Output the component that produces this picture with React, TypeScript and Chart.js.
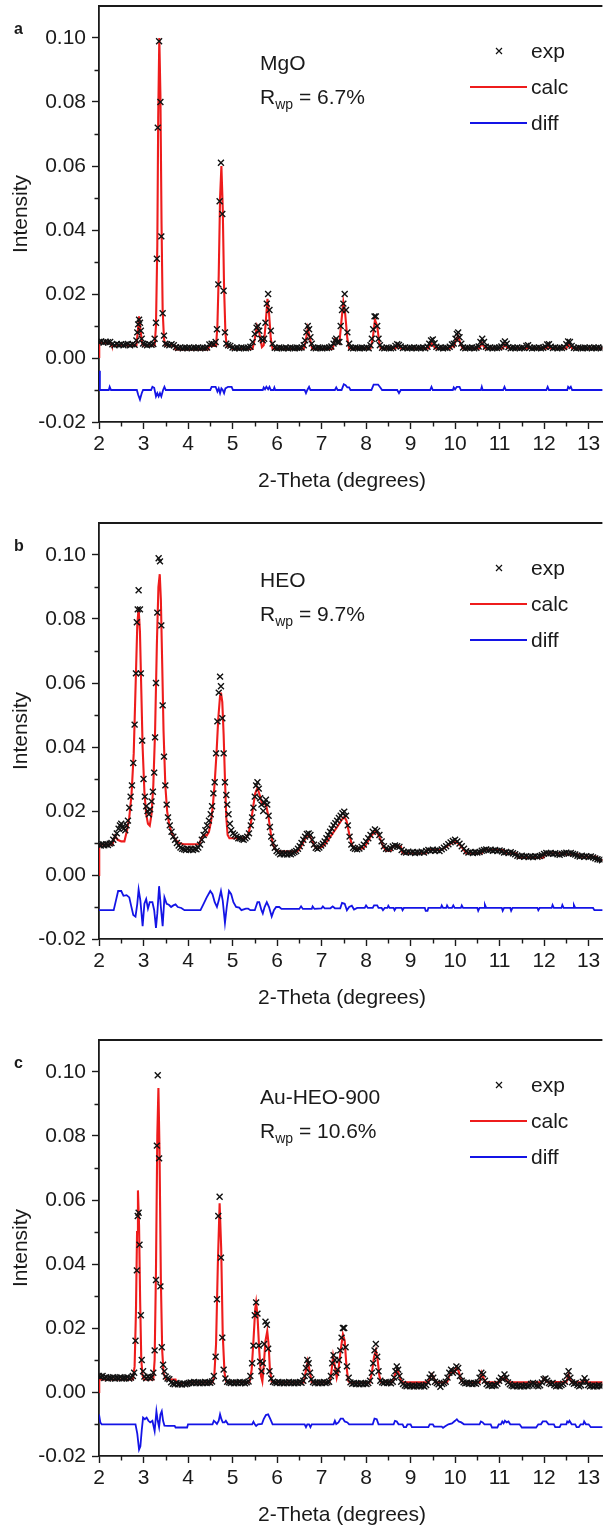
import React, { useEffect, useRef } from "react";
import { Chart, registerables } from "chart.js";

Chart.register(...registerables);

// ---------- tick / label data ----------
const X_TICKS = [2, 3, 4, 5, 6, 7, 8, 9, 10, 11, 12, 13];
const X_MINOR = [2.5, 3.5, 4.5, 5.5, 6.5, 7.5, 8.5, 9.5, 10.5, 11.5, 12.5];
const Y_TICKS = [-0.02, 0, 0.02, 0.04, 0.06, 0.08, 0.1];
const Y_MINOR = [-0.01, 0.01, 0.03, 0.05, 0.07, 0.09];
const X_MIN = 2;
const X_MAX = 13.31;
const Y_MIN = -0.02;
const Y_MAX = 0.11;

const PANEL_LETTERS = ["a", "b", "c"];
const SAMPLE_NAMES = ["MgO", "HEO", "Au-HEO-900"];
const RWP_VALUES = ["6.7%", "9.7%", "10.6%"];
const LEGEND_LABELS = ["exp", "calc", "diff"];
const X_TITLE = "2-Theta (degrees)";
const Y_TITLE = "Intensity";

// intensities below are in units of 1e-3
const Y_UNIT = 1e-3;

// ---------- panel a : MgO ----------
const EXP_A = [
  [2.0, 5.0], [2.05, 5.2], [2.1, 4.8], [2.15, 5.1], [2.2, 4.9], [2.25, 5.0],
  [2.3, 4.3], [2.35, 4.0], [2.4, 4.4], [2.45, 4.1], [2.5, 4.3], [2.55, 4.0], [2.6, 4.2], [2.65, 4.4], [2.7, 4.0], [2.75, 4.3], [2.8, 4.1],
  [2.84, 5.5], [2.86, 8], [2.88, 10.5], [2.9, 12], [2.92, 11], [2.94, 8.5], [2.96, 6], [2.99, 4.5],
  [3.03, 4.2], [3.08, 4.0], [3.13, 4.3], [3.18, 4.1], [3.22, 4.4],
  [3.25, 6], [3.28, 11], [3.3, 31], [3.32, 72], [3.35, 99], [3.38, 80], [3.4, 38], [3.43, 14], [3.46, 7], [3.49, 4.5],
  [3.53, 4.2], [3.58, 4.0], [3.63, 4.3], [3.68, 4.0], [3.73, 3.4], [3.78, 3.1], [3.83, 3.3], [3.88, 3.0], [3.93, 3.2], [3.98, 3.1],
  [4.03, 3.3], [4.08, 3.0], [4.13, 3.2], [4.18, 3.1], [4.23, 3.3], [4.28, 3.0], [4.33, 3.2], [4.38, 3.1], [4.43, 3.3], [4.48, 4.2],
  [4.53, 4.5], [4.58, 4.3], [4.62, 5], [4.65, 9], [4.68, 23], [4.71, 49], [4.74, 61], [4.77, 45], [4.8, 21], [4.83, 8], [4.86, 4.5],
  [4.9, 4.0], [4.95, 3.8], [5.0, 3.3], [5.05, 3.0], [5.1, 3.2], [5.15, 3.0], [5.2, 3.3], [5.25, 3.1], [5.3, 3.0], [5.35, 3.2], [5.4, 3.5],
  [5.45, 5], [5.5, 7.5], [5.54, 9.5], [5.57, 10], [5.6, 8.5], [5.64, 6], [5.68, 5.5], [5.71, 6], [5.74, 11], [5.77, 17], [5.8, 20],
  [5.83, 15], [5.86, 8.5], [5.9, 4.5], [5.95, 3.2], [6.0, 3.0], [6.05, 3.3], [6.1, 3.1], [6.15, 3.0], [6.2, 3.2], [6.25, 3.0],
  [6.3, 3.3], [6.35, 3.1], [6.4, 3.0], [6.45, 3.2], [6.5, 3.1], [6.55, 3.3], [6.6, 4], [6.63, 5.5], [6.66, 8], [6.69, 10], [6.72, 9],
  [6.75, 6.5], [6.78, 4.5], [6.82, 3.2], [6.87, 3.0], [6.92, 3.3], [6.97, 3.1], [7.02, 3.0], [7.07, 3.2], [7.12, 3.1], [7.17, 3.3],
  [7.22, 3.6], [7.27, 4.5], [7.3, 5.5], [7.33, 6], [7.36, 5], [7.4, 5], [7.43, 10], [7.46, 15], [7.49, 17], [7.52, 20], [7.55, 15],
  [7.58, 8], [7.62, 4.5], [7.66, 3.2], [7.71, 3.0], [7.76, 3.3], [7.81, 3.1], [7.86, 3.0], [7.91, 3.2], [7.96, 3.1], [8.01, 3.3],
  [8.06, 3.0], [8.1, 4], [8.13, 6], [8.16, 9], [8.19, 13], [8.22, 13], [8.25, 10], [8.28, 6], [8.31, 4], [8.36, 3.2], [8.41, 3.0],
  [8.46, 3.3], [8.51, 3.1], [8.56, 3.0], [8.61, 3.2], [8.66, 3.8], [8.7, 4.3], [8.74, 4.1], [8.78, 3.6], [8.83, 3.1], [8.88, 3.3],
  [8.93, 3.0], [8.98, 3.2], [9.03, 3.1], [9.08, 3.3], [9.13, 3.0], [9.18, 3.2], [9.23, 3.1], [9.28, 3.3], [9.33, 3.0], [9.38, 3.5],
  [9.42, 4.5], [9.46, 5.5], [9.5, 5.8], [9.54, 4.6], [9.58, 3.5], [9.63, 3.1], [9.68, 3.3], [9.73, 3.0], [9.78, 3.2], [9.83, 3.1],
  [9.88, 3.5], [9.93, 4.2], [9.97, 4.5], [10.01, 6], [10.04, 7.5], [10.07, 8], [10.1, 6.5], [10.14, 4.5], [10.18, 3.3], [10.23, 3.0],
  [10.28, 3.2], [10.33, 3.1], [10.38, 3.3], [10.43, 3.0], [10.48, 3.2], [10.53, 3.6], [10.57, 5], [10.61, 6], [10.65, 5], [10.69, 3.5],
  [10.74, 3.1], [10.79, 3.3], [10.84, 3.0], [10.89, 3.2], [10.94, 3.1], [10.99, 3.3], [11.04, 3.6], [11.08, 4.6], [11.12, 5.2],
  [11.16, 4.5], [11.2, 3.4], [11.25, 3.0], [11.3, 3.2], [11.35, 3.1], [11.4, 3.3], [11.45, 3.0], [11.5, 3.2], [11.55, 3.1], [11.6, 3.8],
  [11.64, 4.0], [11.68, 3.3], [11.73, 3.0], [11.78, 3.2], [11.83, 3.1], [11.88, 3.3], [11.93, 3.0], [11.98, 3.2], [12.03, 3.5],
  [12.07, 4.2], [12.11, 4.3], [12.15, 3.5], [12.2, 3.1], [12.25, 3.3], [12.3, 3.0], [12.35, 3.2], [12.4, 3.1], [12.45, 3.4],
  [12.5, 4.3], [12.54, 5.2], [12.58, 5], [12.62, 3.8], [12.67, 3.2], [12.72, 3.0], [12.77, 3.3], [12.82, 3.1], [12.87, 3.0],
  [12.92, 3.2], [12.97, 3.1], [13.02, 3.3], [13.07, 3.0], [13.12, 3.2], [13.17, 3.1], [13.22, 3.3], [13.27, 3.0], [13.32, 3.2],
];
const CALC_A = [
  [2.0, 0.3], [2.005, 4.7], [2.27, 4.7], [2.29, 3.9], [2.84, 3.9], [2.87, 8], [2.9, 13], [2.93, 9], [2.97, 4.5], [3.0, 3.9],
  [3.25, 3.9], [3.28, 10], [3.31, 35], [3.33, 75], [3.355, 100], [3.38, 82], [3.405, 42], [3.43, 15], [3.46, 6], [3.49, 3.9],
  [3.7, 3.9], [3.72, 2.7], [4.45, 2.7], [4.48, 3.8], [4.63, 3.8], [4.66, 10], [4.69, 26], [4.72, 50], [4.75, 60], [4.78, 47],
  [4.81, 22], [4.84, 8], [4.87, 3.6], [4.98, 3.5], [5.0, 2.8], [5.45, 2.8], [5.5, 6], [5.55, 10], [5.6, 8], [5.66, 3.4],
  [5.7, 4], [5.74, 10], [5.785, 18.5], [5.82, 14], [5.86, 6], [5.9, 2.8], [6.6, 2.8], [6.64, 5], [6.69, 9.3], [6.74, 6],
  [6.79, 2.8], [7.25, 2.8], [7.3, 5.8], [7.35, 5], [7.4, 4.5], [7.45, 12], [7.49, 17.5], [7.53, 14], [7.58, 6], [7.62, 3],
  [8.1, 3], [8.15, 6], [8.2, 12], [8.25, 10], [8.3, 4.5], [8.33, 3], [8.66, 3], [8.7, 3.8], [8.75, 3.5], [8.78, 3], [9.4, 3],
  [9.47, 4.6], [9.53, 3.5], [9.57, 3], [9.9, 3], [9.93, 4], [9.97, 3.5], [10.03, 6], [10.07, 6.8], [10.12, 4.5], [10.17, 3],
  [10.55, 3], [10.6, 4.8], [10.65, 3.5], [10.68, 3], [11.07, 3], [11.12, 4.3], [11.17, 3.2], [11.6, 3], [11.65, 3.3], [11.7, 3],
  [12.05, 3], [12.1, 3.8], [12.15, 3], [12.5, 3], [12.55, 4.5], [12.6, 3.6], [12.63, 3], [13.35, 3],
];
const DIFF_A = [
  [2.0, -4], [2.02, -10], [2.22, -10], [2.24, -9], [2.27, -10], [2.85, -10], [2.88, -11.5], [2.92, -13], [2.96, -11], [2.99, -10],
  [3.17, -10], [3.2, -9], [3.24, -9.3], [3.28, -12], [3.31, -11], [3.34, -12], [3.37, -11], [3.4, -12], [3.44, -10], [3.47, -9],
  [3.5, -10], [4.5, -10], [4.53, -9], [4.62, -9], [4.66, -10.5], [4.69, -9.5], [4.72, -11], [4.75, -9.5], [4.78, -10], [4.81, -11],
  [4.84, -9.5], [4.9, -9], [4.98, -9], [5.01, -10], [5.68, -10], [5.7, -9.2], [5.73, -9.8], [5.76, -9], [5.8, -9.8], [5.83, -9],
  [5.86, -10], [5.92, -10], [5.94, -9.2], [5.96, -10], [6.62, -10], [6.65, -11], [6.68, -10], [6.72, -9], [6.75, -10], [7.3, -10],
  [7.33, -9.2], [7.36, -10], [7.45, -10], [7.5, -8.2], [7.54, -8.5], [7.58, -9.2], [7.62, -9.2], [7.65, -10], [8.12, -10],
  [8.17, -8.3], [8.27, -8.3], [8.32, -9.2], [8.36, -10], [8.7, -10], [8.74, -11], [8.78, -10], [9.44, -10], [9.47, -9], [9.5, -10],
  [9.95, -10], [9.97, -9.2], [10.0, -9.8], [10.04, -9], [10.1, -9], [10.13, -10], [10.58, -10], [10.6, -9], [10.62, -10],
  [11.08, -10], [11.11, -9], [11.14, -10], [12.05, -10], [12.08, -9], [12.11, -10], [12.52, -10], [12.54, -9], [12.57, -9.5],
  [12.6, -9], [12.63, -10], [13.35, -10],
];

// ---------- panel b : HEO ----------
const EXP_B = [
  [2.0, 9.5], [2.04, 9.2], [2.08, 9.6], [2.12, 9.3], [2.16, 9.6], [2.2, 9.4], [2.24, 9.8], [2.28, 10.0], [2.32, 11], [2.36, 12],
  [2.4, 13], [2.44, 14.5], [2.47, 15.5], [2.5, 16], [2.53, 15], [2.56, 14.5], [2.59, 14], [2.62, 15.5], [2.65, 17], [2.68, 21],
  [2.71, 24.5], [2.74, 28], [2.77, 35], [2.8, 47], [2.83, 63], [2.85, 79], [2.87, 83], [2.89, 89], [2.92, 83], [2.94, 63],
  [2.97, 42], [3.0, 30], [3.03, 24.5], [3.06, 21.5], [3.09, 20], [3.12, 19], [3.15, 20.5], [3.18, 23], [3.21, 26], [3.24, 32],
  [3.26, 43], [3.28, 60], [3.31, 82], [3.34, 99], [3.37, 98], [3.4, 78], [3.43, 53], [3.46, 37], [3.49, 28], [3.52, 22],
  [3.55, 18], [3.59, 15.5], [3.63, 13.5], [3.67, 12], [3.71, 11], [3.75, 10], [3.79, 9.2], [3.83, 8.6], [3.87, 8.2], [3.91, 8.0],
  [3.95, 7.8], [3.99, 8.2], [4.03, 7.9], [4.07, 8.1], [4.11, 7.8], [4.15, 8.2], [4.19, 8.0], [4.23, 8.6], [4.27, 9.5], [4.31, 11],
  [4.35, 12.5], [4.39, 14], [4.43, 15.5], [4.47, 17], [4.51, 19], [4.54, 21.5], [4.57, 25.5], [4.6, 29], [4.63, 38], [4.66, 48],
  [4.69, 57], [4.72, 62], [4.74, 59], [4.77, 49], [4.8, 38], [4.83, 29], [4.86, 25], [4.88, 22], [4.91, 19], [4.94, 16],
  [4.97, 14], [5.01, 13], [5.05, 12.5], [5.09, 12], [5.13, 11.5], [5.17, 11.5], [5.21, 11.2], [5.25, 11], [5.29, 11.5], [5.33, 12],
  [5.37, 13], [5.41, 15.5], [5.44, 18], [5.47, 21], [5.5, 24.5], [5.53, 28], [5.56, 29], [5.59, 27], [5.62, 24], [5.65, 22],
  [5.69, 20], [5.72, 22.5], [5.75, 23.5], [5.78, 22], [5.81, 18.5], [5.84, 15], [5.87, 12], [5.91, 10], [5.95, 8.5], [5.99, 7.5],
  [6.03, 7.0], [6.07, 6.5], [6.11, 6.8], [6.15, 6.5], [6.19, 6.8], [6.23, 6.4], [6.27, 6.7], [6.31, 6.5], [6.35, 6.9], [6.39, 7.2],
  [6.43, 7.5], [6.47, 8.2], [6.51, 9], [6.55, 10], [6.59, 11], [6.63, 12], [6.67, 12.8], [6.71, 13], [6.75, 12.5], [6.79, 11],
  [6.83, 9.5], [6.87, 8.5], [6.91, 8.2], [6.95, 8.6], [6.99, 9.2], [7.03, 9.8], [7.07, 10.5], [7.11, 11.5], [7.15, 12.5],
  [7.19, 13.5], [7.23, 14.5], [7.27, 15.5], [7.31, 16.2], [7.35, 17], [7.39, 17.8], [7.43, 18.5], [7.47, 19.3], [7.51, 19.8],
  [7.55, 18.5], [7.59, 15.5], [7.63, 12], [7.67, 9.5], [7.71, 8.5], [7.75, 8.2], [7.8, 8.0], [7.85, 8.3], [7.9, 8.8], [7.95, 9.5],
  [8.0, 10.5], [8.05, 11.5], [8.1, 12.5], [8.15, 13.5], [8.2, 14.2], [8.25, 13.8], [8.3, 12.5], [8.35, 10.5], [8.4, 9], [8.45, 8.2],
  [8.5, 8.0], [8.55, 8.4], [8.6, 8.9], [8.65, 9.2], [8.7, 9.0], [8.75, 8.8], [8.8, 7.8], [8.85, 7.2], [8.9, 7.0], [8.95, 7.3],
  [9.0, 7.0], [9.05, 7.2], [9.1, 6.9], [9.15, 7.1], [9.2, 7.0], [9.25, 7.3], [9.3, 7.0], [9.35, 7.5], [9.4, 7.8], [9.45, 7.6],
  [9.5, 7.9], [9.55, 7.6], [9.6, 7.8], [9.65, 7.5], [9.7, 8.0], [9.75, 8.5], [9.8, 9.0], [9.85, 9.6], [9.9, 10.2], [9.95, 10.6],
  [10.0, 11.0], [10.05, 10.5], [10.1, 9.8], [10.15, 9.0], [10.2, 8.2], [10.25, 7.4], [10.3, 7.0], [10.35, 7.2], [10.4, 6.9],
  [10.45, 7.1], [10.5, 7.0], [10.55, 7.2], [10.6, 7.6], [10.65, 7.8], [10.7, 8.0], [10.75, 7.7], [10.8, 7.9], [10.85, 7.6],
  [10.9, 7.8], [10.95, 7.5], [11.0, 7.7], [11.05, 7.4], [11.1, 7.0], [11.15, 7.2], [11.2, 6.9], [11.25, 7.1], [11.3, 6.8],
  [11.35, 6.5], [11.4, 6.0], [11.45, 5.8], [11.5, 6.0], [11.55, 5.7], [11.6, 5.9], [11.65, 5.6], [11.7, 5.8], [11.75, 5.6],
  [11.8, 5.9], [11.85, 5.7], [11.9, 5.9], [11.95, 6.2], [12.0, 6.6], [12.05, 6.9], [12.1, 6.7], [12.15, 6.9], [12.2, 6.6],
  [12.25, 6.8], [12.3, 6.5], [12.35, 6.3], [12.4, 6.6], [12.45, 6.8], [12.5, 7.0], [12.55, 6.7], [12.6, 6.9], [12.65, 6.6],
  [12.7, 6.4], [12.75, 6.0], [12.8, 5.8], [12.85, 6.0], [12.9, 5.7], [12.95, 5.9], [13.0, 5.6], [13.05, 5.8], [13.1, 5.5],
  [13.15, 5.2], [13.2, 4.9], [13.25, 4.8], [13.3, 4.6],
];
const CALC_B = [
  [2.0, 0], [2.005, 9.5], [2.3, 9.5], [2.36, 12.2], [2.42, 11], [2.5, 10.5], [2.57, 10.5], [2.63, 14], [2.68, 18], [2.73, 25],
  [2.78, 38], [2.82, 58], [2.86, 78], [2.89, 83.5], [2.92, 76], [2.95, 58], [2.98, 40], [3.02, 26], [3.06, 19], [3.1, 16],
  [3.14, 15.4], [3.18, 19], [3.22, 28], [3.26, 45], [3.3, 72], [3.335, 90], [3.365, 94], [3.39, 86], [3.42, 66], [3.45, 45],
  [3.49, 28], [3.53, 20], [3.58, 15.5], [3.65, 12.5], [3.72, 11], [3.8, 10], [3.9, 9.6], [4.25, 9.6], [4.3, 11.5], [4.36, 12.5],
  [4.42, 12.3], [4.47, 13.5], [4.52, 17], [4.56, 22], [4.6, 29], [4.64, 38], [4.68, 49], [4.72, 56], [4.74, 57], [4.77, 54],
  [4.8, 44], [4.83, 30], [4.86, 18], [4.89, 12.5], [4.93, 11.5], [5.3, 11.5], [5.36, 13], [5.41, 16], [5.46, 21], [5.51, 25.5],
  [5.56, 27.2], [5.61, 25], [5.66, 22.5], [5.72, 22.3], [5.76, 21.5], [5.81, 18], [5.86, 13], [5.91, 9.5], [5.96, 8], [6.03, 7.3],
  [6.45, 7.3], [6.52, 8.5], [6.6, 10.5], [6.67, 12.2], [6.72, 12.5], [6.78, 11], [6.84, 9], [6.9, 8.3], [6.97, 8.5], [7.05, 9.2],
  [7.15, 11], [7.25, 13], [7.35, 15], [7.44, 17], [7.51, 18.2], [7.56, 17], [7.62, 13], [7.68, 9.5], [7.73, 8.3], [7.94, 8.3],
  [8.0, 9.5], [8.1, 12], [8.22, 13.8], [8.3, 12], [8.38, 9], [8.45, 7.6], [8.56, 7.6], [8.6, 9], [8.78, 9], [8.82, 6.8],
  [9.34, 6.8], [9.38, 7.8], [9.68, 7.8], [9.8, 8.8], [9.92, 10], [10.0, 10.4], [10.08, 9.8], [10.18, 8.2], [10.25, 6.8],
  [10.6, 6.8], [10.64, 7.8], [10.7, 8.0], [10.76, 7.8], [11.1, 7.8], [11.14, 6.8], [11.38, 6.8], [11.42, 5.4], [11.98, 5.4],
  [12.02, 6.8], [12.42, 6.8], [12.46, 6.5], [12.76, 6.5], [12.8, 5.7], [13.18, 5.7], [13.22, 4.7], [13.35, 4.7],
];
const DIFF_B = [
  [2.0, -11], [2.33, -11], [2.38, -8], [2.43, -5], [2.5, -5], [2.55, -6.5], [2.62, -6.3], [2.68, -7], [2.72, -9.5], [2.77, -12.5],
  [2.82, -13], [2.86, -9], [2.89, -4.5], [2.93, -8], [2.98, -16], [3.02, -9], [3.06, -7.5], [3.1, -10.5], [3.14, -8.5], [3.2, -8.5],
  [3.24, -11], [3.28, -16.5], [3.31, -12], [3.35, -3.5], [3.39, -10], [3.43, -16], [3.47, -7], [3.52, -9], [3.57, -9.3], [3.62, -10],
  [3.67, -9.5], [3.72, -9.2], [3.77, -10], [3.85, -10.3], [3.92, -11], [4.28, -11], [4.35, -9], [4.42, -7], [4.5, -5], [4.55, -6],
  [4.6, -8.5], [4.65, -10], [4.69, -8], [4.74, -5], [4.78, -8], [4.83, -15], [4.87, -10], [4.92, -5], [4.97, -6], [5.02, -8.5],
  [5.08, -10], [5.15, -10.2], [5.2, -11], [5.3, -10.5], [5.35, -10.5], [5.4, -11], [5.5, -11], [5.56, -8.5], [5.6, -8.5],
  [5.65, -11], [5.68, -12], [5.72, -10], [5.77, -8.5], [5.82, -10], [5.88, -13], [5.93, -11], [5.98, -10], [6.05, -10],
  [6.1, -10.6], [6.5, -10.6], [6.54, -9.8], [6.58, -10.6], [6.78, -10.6], [6.8, -9.8], [6.84, -10.6], [7.0, -10.4], [7.03, -9.8],
  [7.07, -10.4], [7.2, -10.4], [7.25, -9.8], [7.3, -10.4], [7.42, -10.4], [7.46, -8.7], [7.52, -9], [7.57, -11], [7.62, -10],
  [7.68, -9.6], [7.73, -10.8], [7.8, -10.3], [7.97, -10.3], [8.0, -9.5], [8.04, -10.3], [8.15, -10.3], [8.18, -9.5], [8.25, -9.5],
  [8.28, -10.3], [8.35, -10.3], [8.38, -11], [8.42, -10.3], [8.48, -10.3], [8.5, -9.6], [8.53, -10.3], [8.62, -10.3], [8.64, -11],
  [8.67, -10.3], [8.8, -10.3], [8.82, -11], [8.85, -10.3], [9.32, -10.3], [9.34, -11.2], [9.38, -11.2], [9.4, -10.3], [9.68, -10.3],
  [9.7, -9.5], [9.73, -10.3], [9.8, -10.3], [9.82, -9.5], [9.85, -10.3], [9.93, -10.3], [9.96, -9.5], [9.99, -10.3], [10.13, -10.3],
  [10.15, -9.5], [10.18, -10.3], [10.5, -10.3], [10.52, -11.2], [10.55, -10.3], [10.65, -10.3], [10.67, -9.3], [10.7, -10.3],
  [11.05, -10.3], [11.07, -11.2], [11.1, -10.3], [11.24, -10.3], [11.26, -11.2], [11.29, -10.3], [11.85, -10.3], [11.87, -11],
  [11.9, -10.3], [12.17, -10.3], [12.19, -9.4], [12.22, -10.3], [12.39, -10.3], [12.41, -9.4], [12.44, -10.3], [12.65, -10.3],
  [12.67, -9.4], [12.7, -10.3], [13.1, -10.3], [13.13, -11], [13.35, -11],
];

// ---------- panel c : Au-HEO-900 ----------
const EXP_C = [
  [2.0, 5.0], [2.04, 4.8], [2.08, 5.0], [2.12, 4.4], [2.16, 4.6], [2.2, 4.2], [2.24, 4.5], [2.28, 4.3], [2.32, 4.6], [2.36, 4.2],
  [2.4, 4.5], [2.44, 4.3], [2.48, 4.6], [2.52, 4.2], [2.56, 4.4], [2.6, 4.3], [2.64, 4.6], [2.68, 4.2], [2.72, 4.5], [2.76, 5.0],
  [2.79, 6], [2.82, 16], [2.85, 38], [2.87, 55], [2.89, 56], [2.91, 46], [2.94, 24], [2.96, 10], [2.99, 6.5], [3.02, 4.8],
  [3.06, 4.3], [3.1, 4.8], [3.14, 4.4], [3.18, 4.6], [3.22, 6], [3.25, 13], [3.28, 35], [3.3, 77], [3.32, 99], [3.35, 73],
  [3.38, 33], [3.41, 14], [3.44, 8.5], [3.47, 6.5], [3.5, 4.8], [3.54, 4.2], [3.58, 4.0], [3.62, 3.0], [3.66, 2.6], [3.7, 2.4],
  [3.74, 2.8], [3.78, 2.4], [3.82, 2.6], [3.86, 2.3], [3.9, 2.7], [3.94, 2.4], [3.98, 2.6], [4.02, 2.8], [4.06, 3.0], [4.1, 2.8],
  [4.14, 3.1], [4.18, 2.8], [4.22, 3.0], [4.26, 2.7], [4.3, 3.0], [4.34, 2.8], [4.38, 3.1], [4.42, 2.8], [4.46, 3.0], [4.5, 2.9],
  [4.54, 3.3], [4.58, 5], [4.62, 11], [4.65, 29], [4.68, 55], [4.71, 61], [4.74, 42], [4.77, 17], [4.8, 7], [4.84, 4.2],
  [4.88, 3.2], [4.92, 3.0], [4.96, 2.8], [5.0, 3.0], [5.04, 2.7], [5.08, 3.0], [5.12, 2.8], [5.16, 3.1], [5.2, 2.8], [5.24, 3.0],
  [5.28, 2.7], [5.32, 3.0], [5.36, 3.3], [5.4, 5], [5.44, 9], [5.47, 14.5], [5.5, 24], [5.53, 28], [5.56, 24.5], [5.59, 14.5],
  [5.62, 9.5], [5.65, 6.5], [5.68, 9], [5.71, 15], [5.74, 22], [5.77, 21], [5.8, 13.5], [5.83, 6.5], [5.87, 4.2], [5.91, 3.2],
  [5.95, 3.0], [5.99, 2.8], [6.03, 3.1], [6.07, 2.8], [6.11, 3.0], [6.15, 2.7], [6.19, 3.0], [6.23, 2.8], [6.27, 3.1], [6.31, 2.8],
  [6.35, 3.0], [6.39, 2.7], [6.43, 3.0], [6.47, 2.8], [6.51, 3.1], [6.55, 2.9], [6.59, 3.5], [6.62, 5], [6.65, 7.5], [6.68, 10],
  [6.71, 9], [6.74, 6], [6.77, 4], [6.81, 3.1], [6.85, 2.8], [6.89, 3.0], [6.93, 2.7], [6.97, 3.0], [7.01, 2.8], [7.05, 3.1],
  [7.09, 2.8], [7.13, 3.0], [7.17, 3.2], [7.21, 5], [7.24, 9], [7.27, 11.5], [7.3, 10], [7.33, 6], [7.36, 7], [7.39, 10],
  [7.42, 13], [7.45, 17], [7.48, 20], [7.51, 20], [7.54, 14], [7.57, 8], [7.61, 4.5], [7.65, 3.0], [7.69, 2.6], [7.73, 2.8],
  [7.77, 2.5], [7.81, 2.7], [7.85, 2.4], [7.89, 2.8], [7.93, 2.5], [7.97, 2.7], [8.01, 2.5], [8.05, 2.8], [8.09, 3.5], [8.13, 6],
  [8.16, 9], [8.19, 13], [8.22, 15], [8.25, 11], [8.28, 6.5], [8.32, 3.5], [8.36, 3.0], [8.4, 2.8], [8.44, 3.1], [8.48, 2.8],
  [8.52, 3.0], [8.56, 2.7], [8.6, 3.2], [8.63, 4.5], [8.66, 6.5], [8.69, 8], [8.72, 7], [8.75, 5], [8.79, 3.2], [8.83, 2.5],
  [8.87, 2.0], [8.91, 1.8], [8.95, 2.1], [8.99, 1.8], [9.03, 2.0], [9.07, 1.7], [9.11, 2.0], [9.15, 1.8], [9.19, 2.1], [9.23, 1.8],
  [9.27, 2.0], [9.31, 1.7], [9.35, 2.2], [9.39, 3.0], [9.43, 4.5], [9.47, 5.5], [9.51, 4.5], [9.55, 3.2], [9.59, 2.8], [9.63, 2.4],
  [9.67, 1.6], [9.71, 2.5], [9.75, 2.8], [9.79, 3.2], [9.83, 4.5], [9.87, 6], [9.91, 7], [9.95, 6], [9.99, 6.5], [10.03, 8],
  [10.07, 7.5], [10.11, 5], [10.15, 3.5], [10.19, 3.0], [10.23, 2.7], [10.27, 2.9], [10.31, 2.6], [10.35, 2.8], [10.39, 2.5],
  [10.43, 2.8], [10.47, 2.6], [10.51, 3.0], [10.55, 4.5], [10.59, 6], [10.63, 5.5], [10.67, 3.5], [10.71, 2.5], [10.75, 2.0],
  [10.79, 2.2], [10.83, 1.9], [10.87, 2.1], [10.91, 2.0], [10.95, 2.6], [10.99, 3.5], [11.03, 4.5], [11.07, 4.0], [11.11, 5.5],
  [11.15, 4.5], [11.19, 3.0], [11.23, 2.4], [11.27, 2.0], [11.31, 1.8], [11.35, 2.1], [11.39, 1.8], [11.43, 2.0], [11.47, 1.7],
  [11.51, 2.0], [11.55, 1.8], [11.59, 2.1], [11.63, 1.8], [11.67, 2.0], [11.71, 2.5], [11.75, 2.8], [11.79, 2.6], [11.83, 2.0],
  [11.87, 1.8], [11.91, 2.1], [11.95, 3.0], [11.99, 4.0], [12.03, 4.2], [12.07, 3.5], [12.11, 2.8], [12.15, 2.5], [12.19, 2.8],
  [12.23, 2.2], [12.27, 1.8], [12.31, 2.0], [12.35, 1.8], [12.39, 2.2], [12.43, 2.6], [12.47, 3.2], [12.51, 5], [12.55, 6.5],
  [12.59, 4.5], [12.63, 3.0], [12.67, 2.6], [12.71, 2.8], [12.75, 2.2], [12.79, 1.8], [12.83, 2.1], [12.87, 3.2], [12.91, 4.3],
  [12.95, 3.2], [12.99, 2.2], [13.03, 1.8], [13.07, 2.0], [13.11, 1.7], [13.15, 2.0], [13.19, 1.8], [13.23, 2.1], [13.27, 1.8],
  [13.31, 2.0],
];
const CALC_C = [
  [2.0, 0], [2.005, 3.9], [2.76, 3.9], [2.8, 8], [2.83, 25], [2.855, 50], [2.875, 63], [2.9, 52], [2.925, 28], [2.95, 10],
  [2.98, 5], [3.01, 3.9], [3.22, 3.9], [3.25, 10], [3.28, 38], [3.31, 80], [3.335, 95], [3.36, 75], [3.39, 35], [3.42, 13],
  [3.45, 6], [3.5, 3.9], [3.72, 3.9], [3.74, 2.8], [4.0, 2.8], [4.02, 3.0], [4.55, 3.0], [4.59, 5], [4.63, 15], [4.67, 40],
  [4.71, 59], [4.745, 45], [4.78, 18], [4.82, 6], [4.86, 3.2], [5.38, 3.0], [5.43, 7], [5.47, 16], [5.51, 26], [5.53, 28],
  [5.56, 24], [5.6, 13], [5.64, 5], [5.67, 3.3], [5.7, 8], [5.74, 16], [5.78, 19], [5.81, 15], [5.84, 7], [5.88, 3.2], [5.92, 3.0],
  [6.6, 3.0], [6.64, 6], [6.69, 9.6], [6.74, 6], [6.78, 3.0], [7.18, 3.0], [7.22, 6], [7.26, 11.2], [7.3, 8], [7.34, 4.5],
  [7.38, 7], [7.43, 13], [7.48, 18], [7.52, 16], [7.56, 8], [7.6, 3.5], [7.64, 2.9], [8.08, 2.9], [8.13, 6], [8.18, 11],
  [8.22, 13], [8.26, 10], [8.3, 5], [8.34, 3.1], [8.6, 3.1], [8.65, 5.5], [8.7, 7.1], [8.75, 5], [8.8, 3.0], [9.4, 3.0],
  [9.44, 4.5], [9.48, 5.5], [9.52, 4.5], [9.56, 3.0], [9.82, 3.0], [9.87, 5], [9.93, 6.6], [9.98, 6], [10.03, 7.6], [10.08, 6.5],
  [10.13, 4], [10.18, 3.0], [10.55, 3.0], [10.6, 6], [10.65, 4], [10.68, 3.0], [11.0, 3.0], [11.05, 4.5], [11.08, 4], [11.12, 4.6],
  [11.16, 3.5], [11.2, 3.0], [11.95, 3.0], [12.0, 4.2], [12.05, 3.2], [12.5, 3.0], [12.55, 5.5], [12.6, 3.5], [12.63, 3.0],
  [12.87, 3.0], [12.9, 4], [12.94, 3.0], [13.35, 3.0],
];
const DIFF_C = [
  [2.0, -7], [2.03, -9.5], [2.06, -10.1], [2.82, -10.1], [2.86, -13], [2.9, -18], [2.93, -17], [2.96, -12], [2.99, -8], [3.03, -8.5],
  [3.07, -8], [3.11, -9], [3.15, -9.5], [3.2, -9], [3.25, -12.2], [3.29, -6], [3.32, -9], [3.35, -11], [3.38, -7], [3.41, -6],
  [3.44, -9], [3.47, -10.5], [3.55, -10.6], [3.7, -10.6], [3.72, -11.1], [3.98, -11.1], [4.0, -10.1], [4.55, -10.1], [4.58, -9],
  [4.62, -9.5], [4.65, -10], [4.69, -9], [4.72, -7], [4.75, -8.5], [4.78, -9.5], [4.82, -9.5], [4.85, -9], [4.9, -10.1],
  [5.44, -10.1], [5.47, -9.3], [5.5, -10.1], [5.53, -10.6], [5.57, -10.1], [5.66, -10], [5.7, -8.5], [5.75, -7.2], [5.8, -7],
  [5.85, -8.5], [5.9, -10.1], [6.62, -10.1], [6.65, -11], [6.68, -10.1], [6.72, -10.1], [6.75, -11], [6.78, -10.1], [7.27, -10.1],
  [7.3, -9], [7.33, -10], [7.38, -9.5], [7.43, -8.3], [7.48, -8.3], [7.52, -9.2], [7.58, -9.5], [7.62, -10.1], [8.15, -10.1],
  [8.19, -8.3], [8.24, -8.5], [8.28, -10.1], [8.62, -10.1], [8.65, -9], [8.69, -9.2], [8.73, -10.1], [8.82, -10.1], [8.85, -11],
  [8.9, -11], [8.93, -10.1], [9.0, -10.1], [9.03, -11], [9.4, -11], [9.43, -10.1], [9.5, -10.1], [9.53, -10.8], [9.7, -10.8],
  [9.73, -11.2], [9.77, -10.8], [9.85, -10.1], [9.93, -9.8], [10.0, -9], [10.04, -8.5], [10.08, -9.2], [10.14, -9.5], [10.2, -10.1],
  [10.55, -10.1], [10.58, -9.2], [10.62, -9.5], [10.66, -10.1], [10.8, -10.1], [10.83, -11.1], [10.95, -11.1], [10.98, -10.1],
  [11.03, -10.1], [11.06, -9.2], [11.09, -9.8], [11.12, -9], [11.16, -9.5], [11.2, -9.2], [11.24, -10.1], [11.45, -10.1],
  [11.5, -11.1], [11.82, -11.1], [11.87, -10.1], [11.93, -10.1], [11.97, -9.2], [12.05, -9.2], [12.1, -10.1], [12.22, -10.1],
  [12.25, -11], [12.35, -11], [12.38, -10.1], [12.5, -10.1], [12.52, -9.2], [12.55, -9.5], [12.57, -9], [12.62, -10.1],
  [12.7, -10.1], [12.73, -11], [12.78, -11], [12.82, -10.1], [12.88, -10.1], [12.9, -9.2], [12.94, -10.1], [13.0, -10.1],
  [13.05, -11], [13.35, -11],
];

const PANEL_DATA = [
  { exp: EXP_A, calc: CALC_A, diff: DIFF_A },
  { exp: EXP_B, calc: CALC_B, diff: DIFF_B },
  { exp: EXP_C, calc: CALC_C, diff: DIFF_C },
];

// ---------- style ----------
const FONT = "'Liberation Sans', Arial, Helvetica, sans-serif";
const INK = "#1a1a1a";
const MARK = "#111111";
const RED = "#ee1c1c";
const BLUE = "#1414e6";
const W = 608;
const PANEL_H = 517;
const PAGE_H = 1531;
const PLOT_TOP = 6;
const PLOT_BOTTOM = 422;

const toPts = (arr: number[][]) => arr.map(([x, y]) => ({ x, y: y * Y_UNIT }));

function drawRwp(ctx: CanvasRenderingContext2D, x: number, y: number, value: string) {
  ctx.font = `21px ${FONT}`;
  ctx.textBaseline = "alphabetic";
  ctx.textAlign = "left";
  ctx.fillText("R", x, y);
  let cx = x + ctx.measureText("R").width;
  ctx.font = `14px ${FONT}`;
  ctx.fillText("wp", cx, y + 5);
  cx += ctx.measureText("wp").width;
  ctx.font = `21px ${FONT}`;
  ctx.fillText(" = " + value, cx, y);
}

function makeDecor(idx: number) {
  return {
    id: "decor" + idx,
    afterDraw(chart: any) {
      const { ctx, chartArea: a, scales } = chart;
      const xs = scales.x;
      const ys = scales.y;
      ctx.save();
      ctx.strokeStyle = INK;
      // top frame line
      ctx.lineWidth = 1.8;
      ctx.beginPath();
      ctx.moveTo(a.left - 0.9, a.top);
      ctx.lineTo(a.right, a.top);
      ctx.stroke();
      // minor ticks
      ctx.lineWidth = 1.4;
      ctx.beginPath();
      X_MINOR.forEach((v) => {
        const px = Math.round(xs.getPixelForValue(v)) + 0.5;
        ctx.moveTo(px, a.bottom);
        ctx.lineTo(px, a.bottom + 4.5);
      });
      Y_MINOR.forEach((v) => {
        const py = Math.round(ys.getPixelForValue(v)) + 0.5;
        ctx.moveTo(a.left, py);
        ctx.lineTo(a.left - 4.5, py);
      });
      ctx.stroke();

      ctx.fillStyle = INK;
      // panel letter
      ctx.font = `bold 16px ${FONT}`;
      ctx.textAlign = "left";
      ctx.textBaseline = "middle";
      ctx.fillText(PANEL_LETTERS[idx], 14, a.top + 24);

      // axis titles
      ctx.font = `21px ${FONT}`;
      ctx.textAlign = "center";
      ctx.textBaseline = "middle";
      ctx.fillText(X_TITLE, 342, a.bottom + 59);
      ctx.save();
      ctx.translate(21, (a.top + a.bottom) / 2);
      ctx.rotate(-Math.PI / 2);
      ctx.fillText(Y_TITLE, 0, 0);
      ctx.restore();

      // sample annotation
      ctx.font = `21px ${FONT}`;
      ctx.textAlign = "left";
      ctx.textBaseline = "alphabetic";
      ctx.fillText(SAMPLE_NAMES[idx], 260, a.top + 64);
      drawRwp(ctx, 260, a.top + 98, RWP_VALUES[idx]);

      // legend
      const lx = 470;
      const lx2 = 527;
      const tx = 531;
      const rows = [a.top + 45, a.top + 81, a.top + 117];
      ctx.strokeStyle = MARK;
      ctx.lineWidth = 1.2;
      const cx = 499;
      const r = 3;
      ctx.beginPath();
      ctx.moveTo(cx - r, rows[0] - r);
      ctx.lineTo(cx + r, rows[0] + r);
      ctx.moveTo(cx - r, rows[0] + r);
      ctx.lineTo(cx + r, rows[0] - r);
      ctx.stroke();
      ctx.lineWidth = 2;
      ctx.strokeStyle = RED;
      ctx.beginPath();
      ctx.moveTo(lx, rows[1]);
      ctx.lineTo(lx2, rows[1]);
      ctx.stroke();
      ctx.strokeStyle = BLUE;
      ctx.beginPath();
      ctx.moveTo(lx, rows[2]);
      ctx.lineTo(lx2, rows[2]);
      ctx.stroke();
      ctx.fillStyle = INK;
      ctx.font = `21px ${FONT}`;
      ctx.textBaseline = "middle";
      LEGEND_LABELS.forEach((t, i) => ctx.fillText(t, tx, rows[i] + 1));
      ctx.restore();
    },
  };
}

function Panel({ idx, top, height }: { idx: number; top: number; height: number }) {
  const ref = useRef<HTMLCanvasElement | null>(null);
  useEffect(() => {
    if (!ref.current) return;
    const d = PANEL_DATA[idx];
    const chart = new Chart(ref.current, {
      type: "scatter",
      data: {
        datasets: [
          {
            label: LEGEND_LABELS[0],
            data: toPts(d.exp),
            showLine: false,
            pointStyle: "crossRot",
            pointRadius: 4.2,
            pointBorderWidth: 1.4,
            pointBorderColor: MARK,
            pointBackgroundColor: MARK,
            borderColor: MARK,
            order: 0,
          },
          {
            label: LEGEND_LABELS[1],
            data: toPts(d.calc),
            showLine: true,
            pointRadius: 0,
            borderColor: RED,
            borderWidth: 2.1,
            tension: 0,
            order: 1,
          },
          {
            label: LEGEND_LABELS[2],
            data: toPts(d.diff),
            showLine: true,
            pointRadius: 0,
            borderColor: BLUE,
            borderWidth: 1.8,
            tension: 0,
            order: 2,
          },
        ],
      },
      options: {
        animation: false,
        responsive: false,
        devicePixelRatio: 1,
        events: [],
        layout: { padding: { top: PLOT_TOP, left: 0, right: 0, bottom: 0 } },
        plugins: { legend: { display: false }, tooltip: { enabled: false }, title: { display: false } },
        scales: {
          x: {
            type: "linear",
            min: X_MIN,
            max: X_MAX,
            afterBuildTicks: (s: any) => {
              s.ticks = X_TICKS.map((v) => ({ value: v }));
            },
            afterFit: (s: any) => {
              s.height = PANEL_H - PLOT_BOTTOM;
              s.paddingLeft = 0;
              s.paddingRight = 0;
            },
            grid: { drawOnChartArea: false, drawTicks: true, tickLength: 7, tickWidth: 1.4, tickColor: INK },
            border: { display: true, color: INK, width: 1.8 },
            ticks: {
              autoSkip: false,
              maxRotation: 0,
              padding: 3,
              color: INK,
              font: { family: FONT, size: 21 },
              callback: (v: any) => String(v),
            },
          },
          y: {
            type: "linear",
            min: Y_MIN,
            max: Y_MAX,
            afterBuildTicks: (s: any) => {
              s.ticks = Y_TICKS.map((v) => ({ value: v }));
            },
            afterFit: (s: any) => {
              s.width = 99;
              s.paddingTop = 0;
              s.paddingBottom = 0;
            },
            grid: { drawOnChartArea: false, drawTicks: true, tickLength: 7, tickWidth: 1.4, tickColor: INK },
            border: { display: true, color: INK, width: 1.8 },
            ticks: {
              autoSkip: false,
              padding: 6,
              color: INK,
              font: { family: FONT, size: 21 },
              callback: (v: any) => Number(v).toFixed(2),
            },
          },
        },
      },
      plugins: [makeDecor(idx)],
    } as any);
    return () => chart.destroy();
  }, [idx]);
  return (
    <div style={{ position: "absolute", left: 0, top, width: W, height, overflow: "hidden" }}>
      <canvas ref={ref} width={W} height={PANEL_H} style={{ display: "block" }} />
    </div>
  );
}

export default function App() {
  return (
    <div
      style={{
        position: "absolute",
        left: 0,
        top: 0,
        width: W,
        height: PAGE_H,
        overflow: "hidden",
        background: "#ffffff",
      }}
    >
      {[0, 1, 2].map((i) => (
        <Panel key={i} idx={i} top={i * PANEL_H} height={i < 2 ? PANEL_H : PAGE_H - 2 * PANEL_H} />
      ))}
    </div>
  );
}
